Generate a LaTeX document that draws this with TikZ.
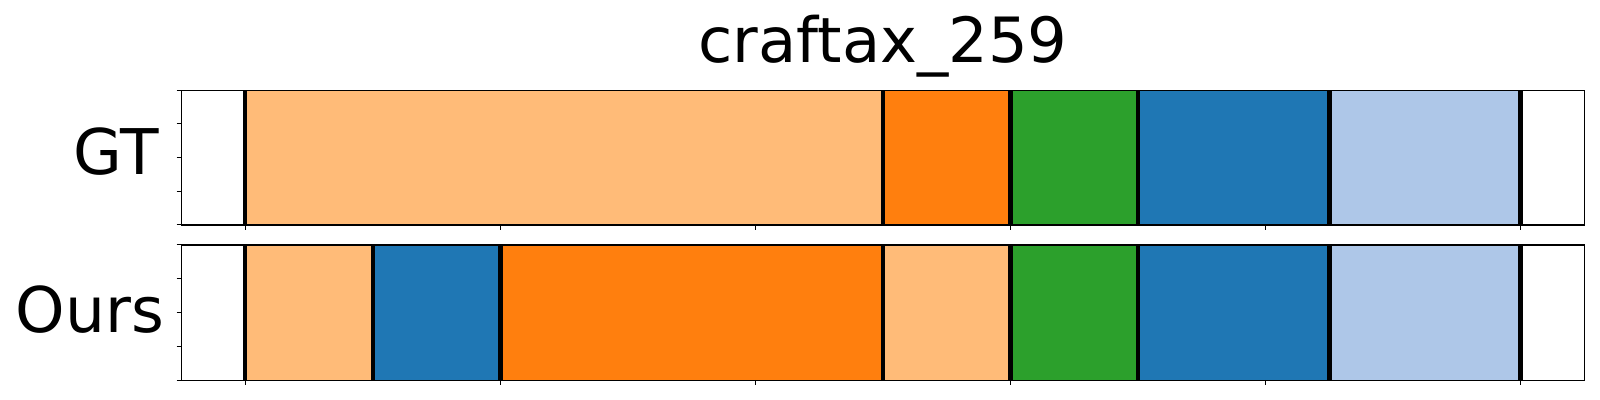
\documentclass[tikz,border=0pt]{standalone}
\usepackage{fontspec}
\setmainfont{DejaVu Sans}
\definecolor{lorange}{HTML}{FFBB78}
\definecolor{dorange}{HTML}{FF7F0E}
\definecolor{tgreen}{HTML}{2CA02C}
\definecolor{tblue}{HTML}{1F77B4}
\definecolor{lblue}{HTML}{AEC7E8}
\tikzset{%
  axbox/.style = {draw,line width=0.6pt},
  bound/.style = {draw,line width=2.2pt},
  tck/.style = {draw,line width=0.5pt},
  lab/.style = {anchor=base west,inner sep=0pt,
        font=\fontsize{31.5}{31.5}\selectfont}
}
\begin{document}
\begin{tikzpicture}[x=2.5508pt,y=-0.5pt]
  \useasboundingbox (-48.08,0) rectangle (265.55,400);
  \node[anchor=base,inner sep=0pt,font=\fontsize{31.2}{31.2}\selectfont]
    (title) at (125,62.3) {craftax\_259};
  \foreach \top/\bot/\name/\lx/\base/\segs in {
      90.3/225/GT/-33.7/174.3/{0/125/lorange,125/150/dorange,150/175/tgreen,175/212.5/tblue,212.5/250/lblue},
      245/380.3/Ours/-45.1/333/{0/25/lorange,25/50/tblue,50/125/dorange,125/150/lorange,150/175/tgreen,175/212.5/tblue,212.5/250/lblue}}{
    \node[lab] (\name) at (\lx,\base) {\name};
    \foreach \l/\r/\c in \segs {
      \fill[\c] (\l,\top) rectangle (\r,\bot);
      \path[bound] (\l,\top) -- (\l,\bot);
    }
    \path[bound] (250,\top) -- (250,\bot);
    \path[axbox] (-12.5,\top) rectangle (262.5,\bot);
    \foreach \k in {0,...,4}
      \path[tck] (-13.48,{\top+\k*(\bot-\top)/4}) -- (-12.5,{\top+\k*(\bot-\top)/4});
    \foreach \k in {0,50,...,250}
      \path[tck] (\k,\bot) -- (\k,\bot+5);
  }
\end{tikzpicture}
\end{document}
